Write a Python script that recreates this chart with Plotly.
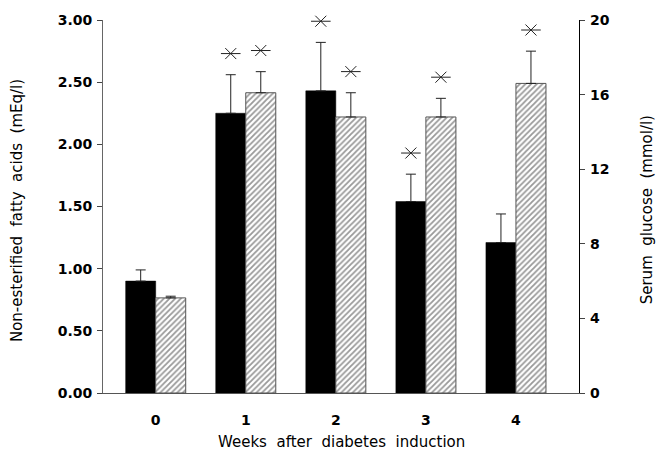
import plotly.graph_objects as go

weeks = [0, 1, 2, 3, 4]
week_labels = ["0", "1", "2", "3", "4"]

# Non-esterified fatty acids (mEq/l) - black bars, left axis
nefa = [0.90, 2.25, 2.43, 1.54, 1.21]
nefa_se = [0.09, 0.31, 0.39, 0.22, 0.23]
nefa_sig = [False, True, True, True, False]

# Serum glucose (mmol/l) - hatched bars, right axis
glucose = [5.1, 16.1, 14.8, 14.8, 16.6]
glucose_se = [0.09, 1.13, 1.30, 1.00, 1.73]
glucose_sig = [False, True, True, True, True]

left_ticks = [0, 0.5, 1.0, 1.5, 2.0, 2.5, 3.0]
left_ticklabels = ["0.00", "0.50", "1.00", "1.50", "2.00", "2.50", "3.00"]
right_ticks = [0, 4, 8, 12, 16, 20]
right_ticklabels = ["0", "4", "8", "12", "16", "20"]

LEFT_MAX = 3.0
RIGHT_MAX = 20.0
BAR_W = 1 / 3
STAR_OFF = 0.17  # gap above error bar, left-axis units

FONT = "DejaVu Sans"

fig = go.Figure()

fig.add_trace(go.Bar(
    x=weeks, y=nefa, width=BAR_W, offset=-BAR_W,
    marker=dict(color="black", line=dict(color="black", width=0.5)),
    error_y=dict(type="data", symmetric=False, array=nefa_se,
                 arrayminus=[0] * len(nefa_se), color="#222", thickness=1, width=5),
    yaxis="y", showlegend=False,
))

fig.add_trace(go.Bar(
    x=weeks, y=glucose, width=BAR_W, offset=0,
    marker=dict(color="white", line=dict(color="#555", width=1),
                pattern=dict(shape="/", fgcolor="#333", bgcolor="white",
                             size=4, solidity=0.45)),
    error_y=dict(type="data", symmetric=False, array=glucose_se,
                 arrayminus=[0] * len(glucose_se), color="#222", thickness=1, width=5),
    yaxis="y2", showlegend=False,
))

# significance asterisks
sx, sy = [], []
for w, v, e, s in zip(weeks, nefa, nefa_se, nefa_sig):
    if s:
        sx.append(w - BAR_W / 2)
        sy.append(v + e + STAR_OFF)
for w, v, e, s in zip(weeks, glucose, glucose_se, glucose_sig):
    if s:
        sx.append(w + BAR_W / 2)
        sy.append((v + e) * LEFT_MAX / RIGHT_MAX + STAR_OFF)

for sym, sz in (("x-thin-open", 11), ("line-ew-open", 14)):
    fig.add_trace(go.Scatter(
        x=sx, y=sy, mode="markers", yaxis="y",
        marker=dict(symbol=sym, size=sz, color="#222", line=dict(color="#222", width=1)),
        showlegend=False, hoverinfo="skip", cliponaxis=False,
    ))

tickfont = dict(family=FONT, size=14, color="black", weight="bold")

fig.update_layout(
    width=660, height=454,
    margin=dict(l=103, r=81, t=16, b=61),
    paper_bgcolor="white", plot_bgcolor="white",
    barmode="overlay",
    font=dict(family=FONT, color="black"),
    xaxis=dict(
        range=[-0.585, 4.70], tickmode="array", tickvals=weeks, ticktext=week_labels,
        showgrid=False, zeroline=False, showline=True, linecolor="#555", linewidth=1,
        ticks="", tickfont=tickfont, ticklabelstandoff=14,
    ),
    yaxis=dict(
        range=[0, LEFT_MAX], tickmode="array", tickvals=left_ticks, ticktext=left_ticklabels,
        showgrid=False, zeroline=False, showline=True, linecolor="#666", linewidth=1,
        ticks="outside", ticklen=5, tickcolor="#444", tickfont=tickfont,
        ticklabelstandoff=2,
    ),
    yaxis2=dict(
        range=[0, RIGHT_MAX], overlaying="y", side="right", anchor="x",
        tickmode="array", tickvals=right_ticks, ticktext=right_ticklabels,
        showgrid=False, zeroline=False, showline=True, linecolor="black", linewidth=1.2,
        ticks="outside", ticklen=5, tickcolor="#444", tickfont=tickfont,
        ticklabelstandoff=2,
    ),
    annotations=[
        dict(text="Weeks\u00a0\u00a0after\u00a0\u00a0diabetes\u00a0\u00a0induction",
             xref="paper", yref="paper", x=0.5, y=-0.131, xanchor="center",
             yanchor="middle", showarrow=False, font=dict(family=FONT, size=15)),
        dict(text="Non-esterified\u00a0\u00a0fatty\u00a0\u00a0acids\u00a0\u00a0(mEq/l)",
             xref="paper", yref="paper", x=-0.181, y=0.49, xanchor="center",
             yanchor="middle", textangle=-90, showarrow=False,
             font=dict(family=FONT, size=15)),
        dict(text="Serum\u00a0\u00a0glucose\u00a0\u00a0(mmol/l)",
             xref="paper", yref="paper", x=1.143, y=0.49, xanchor="center",
             yanchor="middle", textangle=-90, showarrow=False,
             font=dict(family=FONT, size=15)),
    ],
)

fig.write_html("out.html")
